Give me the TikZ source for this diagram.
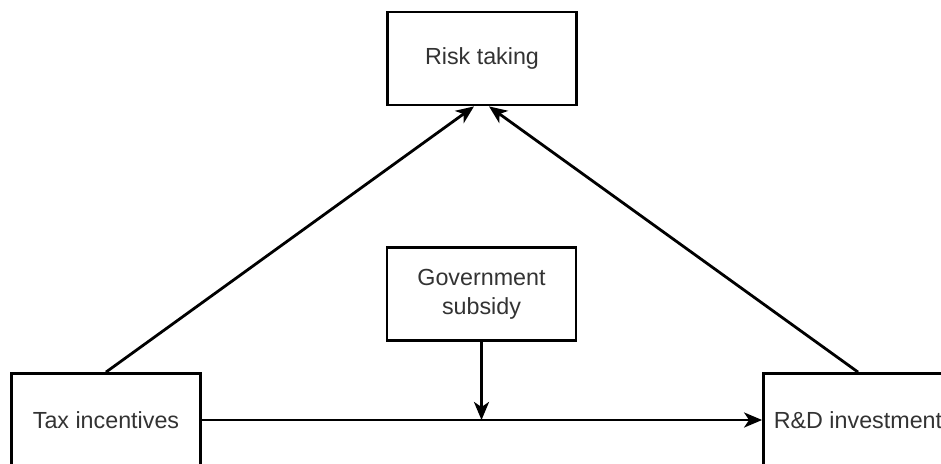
\documentclass[tikz,border=0pt]{standalone}
\usepackage{fontspec}
\setmainfont{Liberation Sans}
\usetikzlibrary{arrows.meta}
\begin{document}
\begin{tikzpicture}[x=1pt,y=1pt,
  box/.style={draw=black, line width=2.8pt, fill=white, minimum width=189pt, minimum height=93pt, inner sep=0pt,
    text=black!80, font=\fontsize{23.3}{29}\selectfont, align=center},
  conn/.style={line width=2.8pt, draw=black, -{Stealth[length=18pt,width=15pt,inset=5pt]}}]
\useasboundingbox (0,0) rectangle (941,-463);
\clip (0,0) rectangle (941,-463);
\fill[white] (0,0) rectangle (941,-463);
\node[box] (risk) at (482,-58.5) {Risk taking};
\node[box] (gov) at (481.5,-294) {Government\\subsidy};
\node[box] (tax) at (106,-420) {Tax incentives};
\node[box] (rd) at (858,-420) {R\&D investment};
\draw[conn] (tax.north) -- ([xshift=-8pt]risk.south);
\draw[conn] (rd.north) -- ([xshift=7pt]risk.south);
\draw[conn] (tax.east) -- (rd.west);
\draw[conn] (gov.south) -- (gov.south |- tax.east);
\end{tikzpicture}
\end{document}
